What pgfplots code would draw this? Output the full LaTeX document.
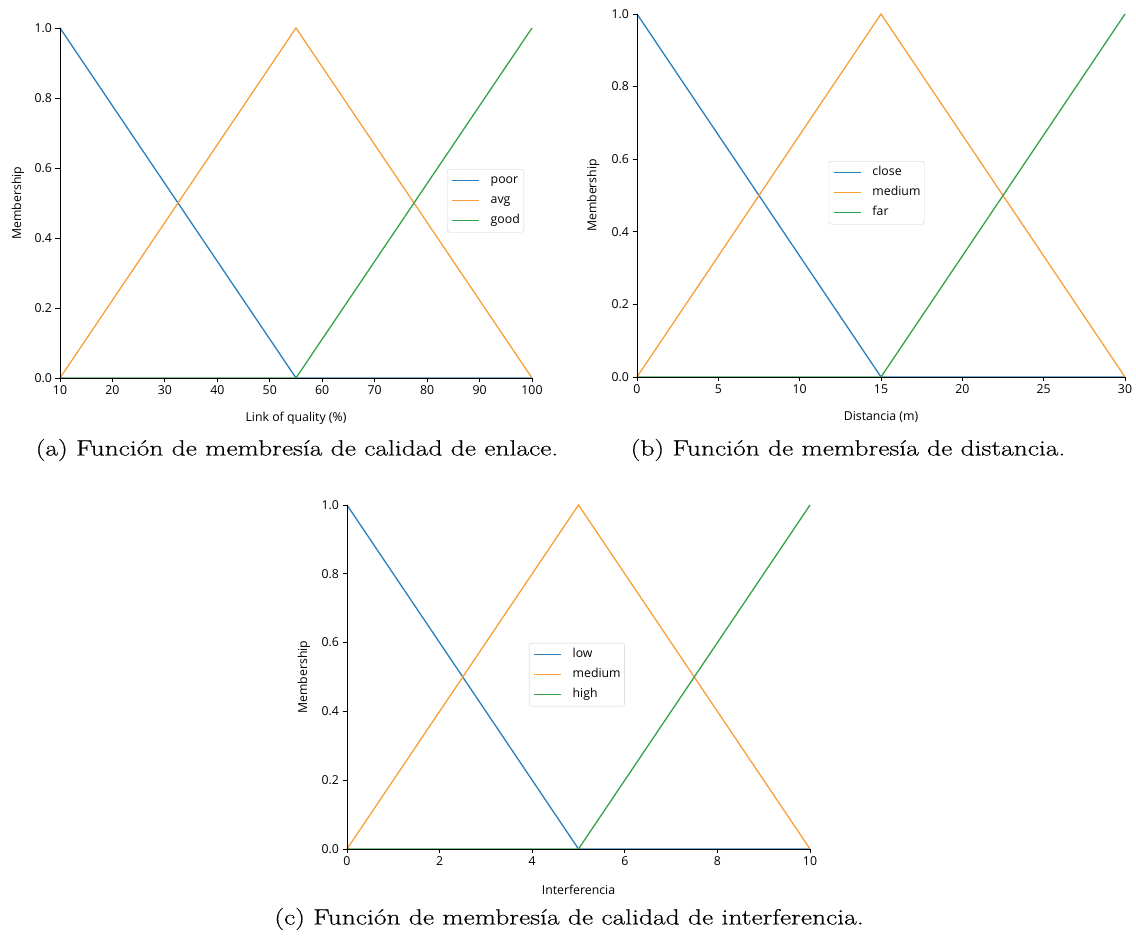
\documentclass[border=0pt]{standalone}
\usepackage{fontspec}
\setmainfont{Open Sans}
\newfontfamily\capfont[FakeStretch=1.25,FakeBold=0.4]{Latin Modern Roman}
\usepackage{pgfplots}
\pgfplotsset{compat=1.18}
\definecolor{mblue}{HTML}{2A7FBA}
\definecolor{morange}{HTML}{FA9E3C}
\definecolor{mgreen}{HTML}{35A24A}
\pgfplotsset{
  memb/.style={
    scale only axis, clip=false, axis on top,
    ymin=0, ymax=1,
    axis x line*=bottom, axis y line*=left,
    axis line style={black, line width=0.9pt},
    tick align=outside, major tick length=4.5pt,
    every tick/.style={black, line width=0.9pt},
    ytick={0,0.2,0.4,0.6,0.8,1},
    yticklabel style={/pgf/number format/.cd, fixed, fixed zerofill, precision=1},
    /pgf/number format/assume math mode=true,
    font=\fontsize{12.3}{14}\selectfont,
    ticklabel style={font=\fontsize{12.3}{14}\selectfont},
    ylabel=Membership,
    legend cell align=left,
    legend image code/.code={\draw[#1, line width=1.5pt] (0pt,0pt) -- (27pt,0pt);},
    legend style={draw=black!18, rounded corners=2.5pt, fill=white,
      font=\fontsize{12.3}{14}\selectfont, inner xsep=4pt, inner ysep=5.5pt, row sep=8pt,
      nodes={inner sep=0pt, text height=9pt, text depth=3pt},
      /tikz/every odd column/.style={column sep=11pt}},
    every axis plot/.append style={line width=1.3pt},
  }
}
\begin{document}
\begin{tikzpicture}
\path[use as bounding box] (0pt,0pt) rectangle (1136pt,936pt);
% (a)
\begin{axis}[memb, at={(60pt,558pt)}, anchor=south west, width=472pt, height=350pt,
  xmin=10, xmax=100, xtick={10,20,...,100},
  xlabel={Link of quality (\%)},
  xlabel style={at={(axis description cs:0.5,-0.114)}, anchor=center},
  ylabel style={at={(axis description cs:-0.089,0.5)}, anchor=center},
  legend style={at={(axis description cs:0.82,0.597)}, anchor=north west}]
\addplot[mblue] coordinates {(10,1) (55,0) (100,0)};
\addplot[morange] coordinates {(10,0) (55,1) (100,0)};
\addplot[mgreen] coordinates {(10,0) (55,0) (100,1)};
\legend{poor, avg, good}
\end{axis}
% (b)
\begin{axis}[memb, at={(637pt,559pt)}, anchor=south west, width=488pt, height=363pt,
  xmin=0, xmax=30, xtick={0,5,...,30},
  xlabel={Distancia (m)},
  xlabel style={at={(axis description cs:0.5,-0.110)}, anchor=center},
  ylabel style={at={(axis description cs:-0.090,0.5)}, anchor=center},
  legend style={at={(axis description cs:0.393,0.595)}, anchor=north west}]
\addplot[mblue] coordinates {(0,1) (15,0) (30,0)};
\addplot[morange] coordinates {(0,0) (15,1) (30,0)};
\addplot[mgreen] coordinates {(0,0) (15,0) (30,1)};
\legend{close, medium, far}
\end{axis}
% (c)
\begin{axis}[memb, at={(347pt,87pt)}, anchor=south west, width=463pt, height=344pt,
  xmin=0, xmax=10, xtick={0,2,...,10},
  xlabel={Interferencia},
  xlabel style={at={(axis description cs:0.5,-0.118)}, anchor=center},
  ylabel style={at={(axis description cs:-0.093,0.5)}, anchor=center},
  legend style={at={(axis description cs:0.393,0.599)}, anchor=north west}]
\addplot[mblue] coordinates {(0,1) (5,0) (10,0)};
\addplot[morange] coordinates {(0,0) (5,1) (10,0)};
\addplot[mgreen] coordinates {(0,0) (5,0) (10,1)};
\legend{low, medium, high}
\end{axis}
\node[font=\capfont\fontsize{22}{26}\selectfont, anchor=center] at (297pt,486pt) {(a) Función de membresía de calidad de enlace.};
\node[font=\capfont\fontsize{22}{26}\selectfont, anchor=center] at (848pt,486pt) {(b) Función de membresía de distancia.};
\node[font=\capfont\fontsize{22}{26}\selectfont, anchor=center] at (569pt,17pt) {(c) Función de membresía de calidad de interferencia.};
\end{tikzpicture}
\end{document}
